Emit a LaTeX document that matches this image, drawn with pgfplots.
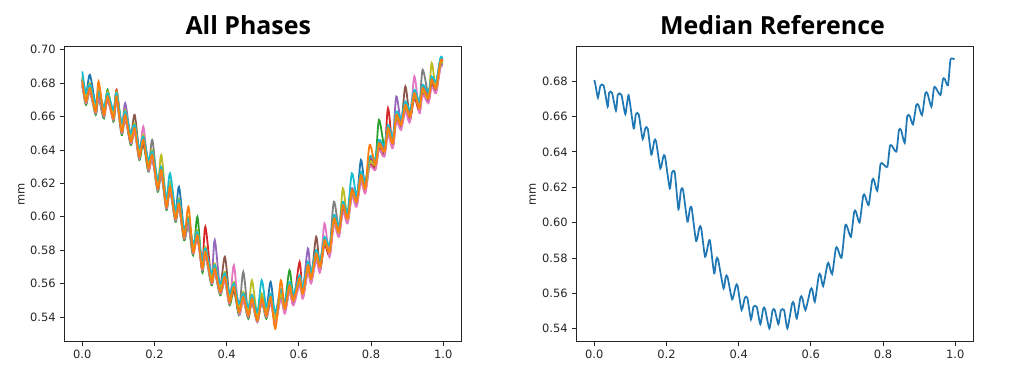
\documentclass[border=0pt]{standalone}
\usepackage{fontspec}
\setmainfont{DejaVu Sans}
\newfontfamily\titlefont{Open Sans}
\usepackage{pgfplots}
\usepackage{pgfplotstable}
\pgfplotsset{compat=1.18}
\definecolor{c0}{HTML}{1F77B4}
\definecolor{c1}{HTML}{FF7F0E}
\definecolor{c2}{HTML}{2CA02C}
\definecolor{c3}{HTML}{D62728}
\definecolor{c4}{HTML}{9467BD}
\definecolor{c5}{HTML}{8C564B}
\definecolor{c6}{HTML}{E377C2}
\definecolor{c7}{HTML}{7F7F7F}
\definecolor{c8}{HTML}{BCBD22}
\definecolor{c9}{HTML}{17BECF}

\pgfplotstableread{
x s0 s1 s2 s3 s4 s5 s6 s7 s8 s9
0.000 0.683 0.681 0.679 0.682 0.680 0.678 0.679 0.682 0.684 0.687
0.010 0.673 0.669 0.667 0.670 0.671 0.672 0.668 0.669 0.672 0.674
0.021 0.685 0.677 0.675 0.678 0.676 0.674 0.675 0.678 0.680 0.679
0.037 0.667 0.663 0.661 0.664 0.665 0.666 0.662 0.663 0.666 0.668
0.045 0.675 0.681 0.671 0.674 0.672 0.670 0.671 0.674 0.676 0.675
0.060 0.665 0.661 0.659 0.662 0.663 0.664 0.660 0.661 0.664 0.666
0.070 0.674 0.672 0.676 0.673 0.671 0.669 0.670 0.673 0.675 0.674
0.086 0.663 0.659 0.657 0.660 0.661 0.662 0.658 0.659 0.662 0.664
0.095 0.674 0.672 0.670 0.676 0.671 0.669 0.670 0.673 0.675 0.674
0.109 0.655 0.651 0.649 0.652 0.653 0.654 0.650 0.651 0.654 0.656
0.119 0.663 0.661 0.659 0.662 0.668 0.658 0.659 0.662 0.664 0.663
0.134 0.649 0.645 0.643 0.646 0.647 0.648 0.644 0.645 0.648 0.650
0.145 0.655 0.653 0.651 0.654 0.652 0.661 0.651 0.654 0.656 0.655
0.158 0.640 0.636 0.634 0.637 0.638 0.639 0.635 0.636 0.639 0.641
0.169 0.648 0.646 0.644 0.647 0.645 0.643 0.654 0.647 0.649 0.648
0.183 0.633 0.629 0.627 0.630 0.631 0.632 0.628 0.629 0.632 0.634
0.194 0.639 0.637 0.635 0.638 0.636 0.634 0.635 0.646 0.640 0.639
0.209 0.621 0.617 0.615 0.618 0.619 0.620 0.616 0.617 0.620 0.622
0.219 0.630 0.628 0.626 0.629 0.627 0.625 0.626 0.629 0.637 0.630
0.233 0.610 0.606 0.604 0.607 0.608 0.609 0.605 0.606 0.609 0.611
0.243 0.620 0.618 0.616 0.619 0.617 0.615 0.616 0.619 0.621 0.626
0.258 0.603 0.599 0.597 0.600 0.601 0.602 0.598 0.599 0.602 0.604
0.268 0.618 0.608 0.606 0.609 0.607 0.605 0.606 0.609 0.611 0.610
0.282 0.592 0.588 0.586 0.589 0.590 0.591 0.587 0.588 0.591 0.593
0.294 0.599 0.606 0.595 0.598 0.596 0.594 0.595 0.598 0.600 0.599
0.307 0.583 0.579 0.577 0.580 0.581 0.582 0.578 0.579 0.582 0.584
0.319 0.591 0.589 0.600 0.590 0.588 0.586 0.587 0.590 0.592 0.591
0.332 0.573 0.569 0.567 0.570 0.571 0.572 0.568 0.569 0.572 0.574
0.341 0.581 0.579 0.577 0.594 0.578 0.576 0.577 0.580 0.582 0.581
0.358 0.565 0.561 0.559 0.562 0.563 0.564 0.560 0.561 0.564 0.566
0.367 0.571 0.569 0.567 0.570 0.586 0.566 0.567 0.570 0.572 0.571
0.382 0.559 0.555 0.553 0.556 0.557 0.558 0.554 0.555 0.558 0.560
0.395 0.566 0.564 0.562 0.565 0.563 0.576 0.562 0.565 0.567 0.566
0.408 0.553 0.549 0.547 0.550 0.551 0.552 0.548 0.549 0.552 0.554
0.420 0.560 0.558 0.556 0.559 0.557 0.555 0.571 0.559 0.561 0.560
0.434 0.547 0.543 0.541 0.544 0.545 0.546 0.542 0.543 0.546 0.548
0.446 0.554 0.552 0.550 0.553 0.551 0.549 0.550 0.567 0.555 0.554
0.460 0.545 0.541 0.539 0.542 0.543 0.544 0.540 0.541 0.544 0.546
0.470 0.553 0.551 0.549 0.552 0.550 0.548 0.549 0.552 0.562 0.553
0.485 0.542 0.538 0.537 0.539 0.540 0.541 0.537 0.538 0.541 0.543
0.497 0.553 0.551 0.549 0.552 0.550 0.548 0.549 0.552 0.554 0.562
0.510 0.545 0.541 0.539 0.542 0.543 0.544 0.540 0.541 0.544 0.546
0.522 0.561 0.552 0.551 0.549 0.553 0.552 0.548 0.550 0.551 0.554
0.535 0.540 0.533 0.542 0.537 0.541 0.538 0.536 0.541 0.539 0.543
0.550 0.555 0.562 0.554 0.552 0.556 0.555 0.551 0.553 0.554 0.557
0.561 0.546 0.545 0.548 0.543 0.547 0.544 0.542 0.547 0.545 0.549
0.574 0.559 0.559 0.568 0.556 0.560 0.559 0.555 0.557 0.558 0.561
0.585 0.551 0.550 0.553 0.548 0.552 0.549 0.547 0.552 0.550 0.554
0.602 0.563 0.563 0.562 0.573 0.564 0.563 0.559 0.561 0.562 0.565
0.611 0.555 0.554 0.557 0.552 0.556 0.553 0.551 0.556 0.554 0.558
0.625 0.571 0.571 0.570 0.568 0.581 0.571 0.567 0.569 0.570 0.573
0.634 0.564 0.563 0.566 0.561 0.565 0.562 0.560 0.565 0.563 0.567
0.648 0.578 0.578 0.577 0.575 0.579 0.588 0.574 0.576 0.577 0.580
0.659 0.571 0.570 0.573 0.568 0.572 0.569 0.567 0.572 0.570 0.574
0.671 0.586 0.586 0.585 0.583 0.587 0.586 0.596 0.584 0.585 0.588
0.685 0.580 0.579 0.582 0.577 0.581 0.578 0.576 0.581 0.579 0.583
0.697 0.599 0.599 0.598 0.596 0.600 0.599 0.595 0.609 0.598 0.601
0.711 0.592 0.591 0.594 0.589 0.593 0.590 0.588 0.593 0.591 0.595
0.722 0.607 0.607 0.606 0.604 0.608 0.607 0.603 0.605 0.617 0.609
0.735 0.600 0.599 0.602 0.597 0.601 0.598 0.596 0.601 0.599 0.603
0.747 0.616 0.616 0.615 0.613 0.617 0.616 0.612 0.614 0.615 0.626
0.760 0.610 0.609 0.612 0.607 0.611 0.608 0.606 0.611 0.609 0.613
0.772 0.634 0.625 0.624 0.622 0.626 0.625 0.621 0.623 0.624 0.627
0.784 0.618 0.617 0.620 0.615 0.619 0.616 0.614 0.619 0.617 0.621
0.796 0.634 0.643 0.633 0.631 0.635 0.634 0.630 0.632 0.633 0.636
0.812 0.632 0.631 0.634 0.629 0.633 0.630 0.628 0.633 0.631 0.635
0.822 0.644 0.644 0.658 0.641 0.645 0.644 0.640 0.642 0.643 0.646
0.837 0.640 0.639 0.642 0.637 0.641 0.638 0.636 0.641 0.639 0.643
0.847 0.653 0.653 0.652 0.665 0.654 0.653 0.649 0.651 0.652 0.655
0.860 0.645 0.644 0.647 0.642 0.646 0.643 0.641 0.646 0.644 0.648
0.870 0.661 0.661 0.660 0.658 0.672 0.661 0.657 0.659 0.660 0.663
0.883 0.656 0.655 0.658 0.653 0.657 0.654 0.652 0.657 0.655 0.659
0.895 0.667 0.667 0.666 0.664 0.668 0.678 0.663 0.665 0.666 0.669
0.908 0.661 0.660 0.663 0.658 0.662 0.659 0.657 0.662 0.660 0.664
0.920 0.674 0.674 0.673 0.671 0.675 0.674 0.684 0.672 0.673 0.676
0.934 0.666 0.665 0.668 0.663 0.667 0.664 0.662 0.667 0.665 0.669
0.943 0.677 0.677 0.676 0.674 0.678 0.677 0.673 0.688 0.676 0.679
0.959 0.672 0.671 0.674 0.669 0.673 0.670 0.668 0.673 0.671 0.675
0.968 0.682 0.682 0.681 0.679 0.683 0.682 0.678 0.680 0.692 0.684
0.980 0.678 0.677 0.680 0.675 0.679 0.676 0.674 0.679 0.677 0.681
0.992 0.693 0.693 0.692 0.690 0.694 0.693 0.689 0.691 0.692 0.695
0.998 0.693 0.693 0.692 0.691 0.694 0.693 0.690 0.691 0.692 0.695
}\phases

\pgfplotstableread{
x y
0.000 0.6806
0.004 0.6770
0.010 0.6706
0.017 0.6774
0.026 0.6774
0.037 0.6655
0.041 0.6734
0.049 0.6734
0.060 0.6632
0.065 0.6723
0.075 0.6723
0.086 0.6613
0.095 0.6720
0.109 0.6532
0.115 0.6612
0.123 0.6612
0.134 0.6472
0.141 0.6532
0.148 0.6532
0.158 0.6384
0.166 0.6461
0.171 0.6461
0.183 0.6306
0.191 0.6372
0.196 0.6372
0.209 0.6193
0.215 0.6282
0.223 0.6282
0.233 0.6075
0.240 0.6184
0.246 0.6184
0.258 0.6005
0.265 0.6080
0.270 0.6080
0.282 0.5896
0.291 0.5971
0.296 0.5971
0.307 0.5807
0.317 0.5892
0.321 0.5892
0.332 0.5713
0.338 0.5792
0.343 0.5792
0.358 0.5628
0.364 0.5694
0.369 0.5694
0.382 0.5566
0.392 0.5643
0.397 0.5643
0.408 0.5506
0.417 0.5575
0.424 0.5575
0.434 0.5453
0.441 0.5524
0.450 0.5524
0.460 0.5426
0.468 0.5513
0.473 0.5513
0.485 0.5402
0.494 0.5505
0.500 0.5505
0.510 0.5426
0.517 0.5505
0.526 0.5505
0.535 0.5402
0.548 0.5543
0.553 0.5543
0.561 0.5458
0.571 0.5577
0.576 0.5577
0.585 0.5506
0.599 0.5622
0.604 0.5622
0.611 0.5553
0.622 0.5703
0.627 0.5703
0.634 0.5641
0.646 0.5766
0.650 0.5766
0.659 0.5709
0.669 0.5854
0.674 0.5854
0.685 0.5801
0.695 0.5980
0.700 0.5980
0.711 0.5920
0.720 0.6061
0.725 0.6061
0.735 0.6001
0.745 0.6152
0.750 0.6152
0.760 0.6099
0.770 0.6240
0.775 0.6240
0.784 0.6180
0.793 0.6331
0.800 0.6331
0.812 0.6316
0.819 0.6433
0.825 0.6433
0.837 0.6401
0.844 0.6523
0.850 0.6523
0.860 0.6451
0.867 0.6602
0.874 0.6602
0.883 0.6555
0.892 0.6664
0.898 0.6664
0.908 0.6608
0.917 0.6730
0.923 0.6730
0.934 0.6655
0.941 0.6762
0.946 0.6762
0.959 0.6721
0.966 0.6811
0.971 0.6811
0.980 0.6776
0.987 0.6922
0.998 0.6922
}\median

\pgfplotsset{
  panel/.style={
    scale only axis,
    width=297.75pt, height=221.25pt,
    axis line style={black!85, line width=0.6pt},
    tick style={black!85, line width=0.6pt},
    tick align=outside,
    major tick length=2.9pt,
    xtick pos=bottom, ytick pos=left,
    xmin=-0.05, xmax=1.05,
    xtick={0,0.2,0.4,0.6,0.8,1.0},
    xticklabel style={/pgf/number format/.cd, fixed, fixed zerofill, precision=1},
    yticklabel style={/pgf/number format/.cd, fixed, fixed zerofill, precision=2},
    /pgf/number format/assume math mode=true,
    ticklabel style={font=\fontsize{8.6}{10}\selectfont, text=black!85},
    ylabel={mm},
    ylabel style={font=\fontsize{8.6}{10}\selectfont, text=black!85},
    every axis plot/.append style={line width=1.35pt, smooth, no markers},
  }
}

\begin{document}
\begin{tikzpicture}
\useasboundingbox (0,0) rectangle (768pt,288pt);
\begin{axis}[panel, at={(48.2pt,31.7pt)}, anchor=south west,
  ymin=0.5252, ymax=0.7018,
  ytick={0.54,0.56,0.58,0.60,0.62,0.64,0.66,0.68,0.70},
  ylabel style={at={(axis description cs:-0.108,0.5)}, anchor=center}]
\addplot[c0] table[x=x,y=s0] {\phases};
\addplot[c2] table[x=x,y=s2] {\phases};
\addplot[c3] table[x=x,y=s3] {\phases};
\addplot[c4] table[x=x,y=s4] {\phases};
\addplot[c5] table[x=x,y=s5] {\phases};
\addplot[c6] table[x=x,y=s6] {\phases};
\addplot[c7] table[x=x,y=s7] {\phases};
\addplot[c8] table[x=x,y=s8] {\phases};
\addplot[c9] table[x=x,y=s9] {\phases};
\addplot[c1] table[x=x,y=s1] {\phases};
\end{axis}
\begin{axis}[panel, at={(432.2pt,31.7pt)}, anchor=south west,
  ymin=0.5327, ymax=0.6994,
  ytick={0.54,0.56,0.58,0.60,0.62,0.64,0.66,0.68},
  ylabel style={at={(axis description cs:-0.110,0.5)}, anchor=center}]
\addplot[c0, tension=0.35, line width=1.3pt] table[x=x,y=y] {\median};
\end{axis}
\node[anchor=base, font=\titlefont\bfseries\fontsize{18.7}{21}\selectfont] at (186.2pt,262.3pt) {All Phases};
\node[anchor=base, font=\titlefont\bfseries\fontsize{18.7}{21}\selectfont] at (579.4pt,262.3pt) {Median Reference};
\end{tikzpicture}
\end{document}
